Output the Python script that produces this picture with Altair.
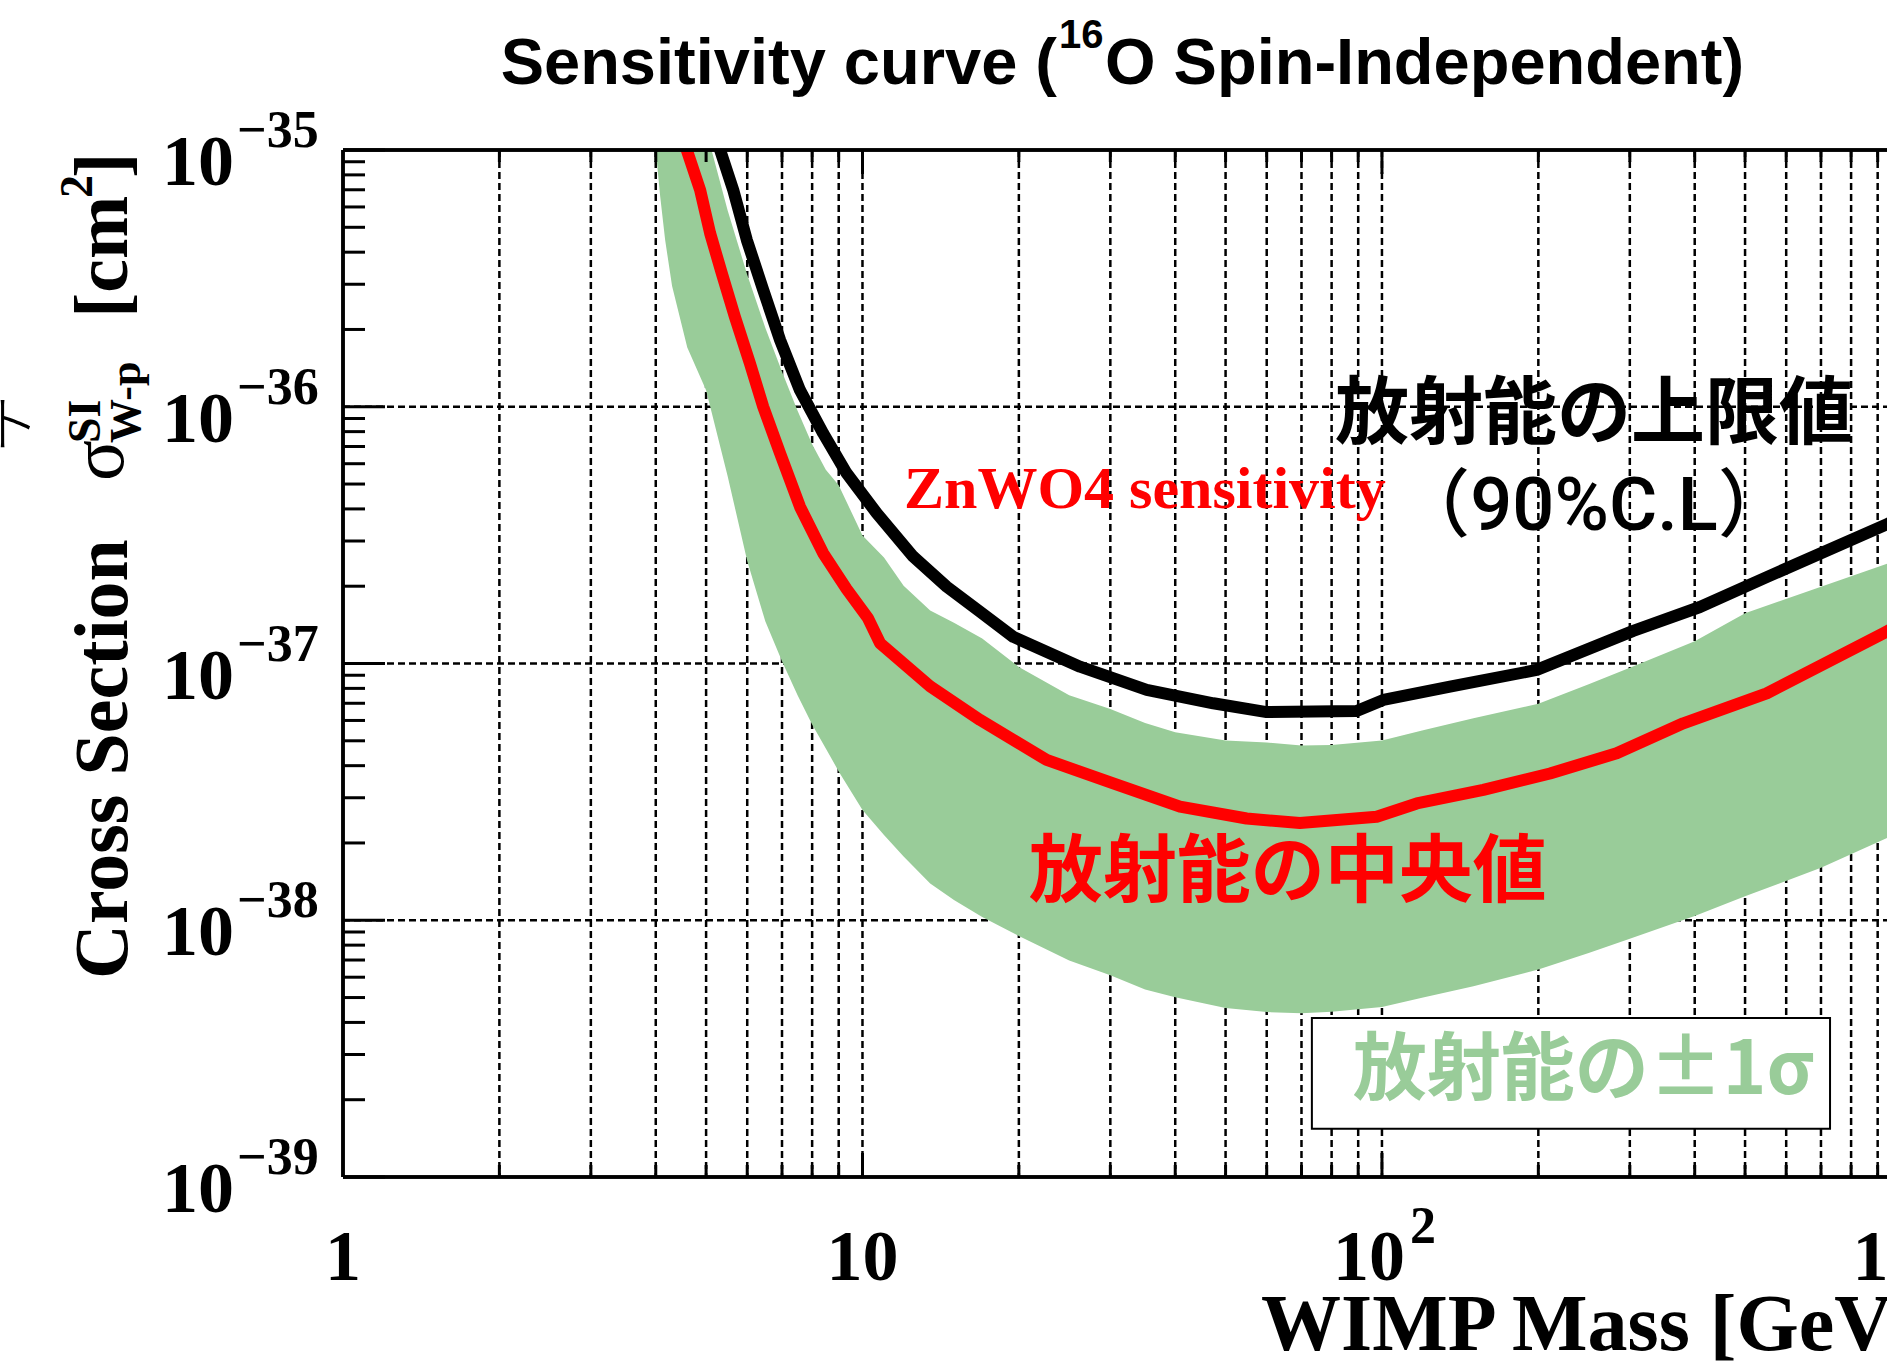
import altair as alt
import pandas as pd

# ---------------- data ----------------
# Upper limit (90% C.L.) - black
upper_mass = [5.01, 5.32, 5.64, 5.99, 6.44, 6.94, 7.58, 8.40, 9.32, 10.65, 12.52, 14.53, 16.84,
              19.51, 26.22, 35.25, 47.35, 60.0, 89.4, 100.6, 135.2, 198.6, 304.6, 409.4, 550.3,
              937.8, 1000]
upper_sigma = [1.45e-35, 1.0e-35, 6.98e-36, 4.46e-36, 2.85e-36, 1.82e-36, 1.16e-36, 7.88e-37,
               5.51e-37, 3.85e-37, 2.61e-37, 1.99e-37, 1.59e-37, 1.27e-37, 9.72e-38, 7.89e-38,
               7.00e-38, 6.47e-38, 6.53e-38, 7.21e-38, 8.13e-38, 9.44e-38, 1.34e-37, 1.66e-37,
               2.17e-37, 3.49e-37, 3.70e-37]

# Median sensitivity - red
median_mass = [4.27, 4.59, 4.87, 5.09, 5.36, 5.68, 6.07, 6.44, 6.94, 7.58, 8.40, 9.32, 10.25,
               10.81, 13.49, 16.84, 22.62, 30.39, 40.85, 54.9, 69.5, 97.7, 116.7, 156.7, 210.6,
               283.0, 380.2, 550.3, 922.6, 1000]
median_sigma = [1.55e-35, 1.0e-35, 6.98e-36, 4.74e-36, 3.31e-36, 2.24e-36, 1.48e-36, 1.0e-36,
                6.59e-37, 4.08e-37, 2.69e-37, 1.95e-37, 1.50e-37, 1.20e-37, 8.15e-38, 6.03e-38,
                4.21e-38, 3.41e-38, 2.77e-38, 2.49e-38, 2.39e-38, 2.53e-38, 2.85e-38, 3.22e-38,
                3.73e-38, 4.47e-38, 5.85e-38, 7.65e-38, 1.31e-37, 1.43e-37]

# +-1 sigma band - green
band_mass = [4.0, 4.08, 4.17, 4.3, 4.6, 5.0, 5.5, 6.0, 6.5, 7.0, 7.5, 8.0, 8.5, 9.0, 10, 11, 12,
             13.5, 15, 17, 20, 25, 30, 35, 40, 50, 60, 70, 80, 100, 120, 150, 200, 250, 300, 400,
             500, 700, 1000]
band_low = [1.0e-35, 6.58e-36, 4.46e-36, 2.95e-36, 1.70e-36, 1.16e-36, 5.37e-37, 2.51e-37,
            1.46e-37, 1.02e-37, 7.53e-38, 5.79e-38, 4.67e-38, 3.80e-38, 2.69e-38, 2.15e-38,
            1.77e-38, 1.39e-38, 1.20e-38, 1.03e-38, 8.69e-39, 6.97e-39, 6.10e-39, 5.37e-39,
            5.01e-39, 4.55e-39, 4.39e-39, 4.34e-39, 4.40e-39, 4.59e-39, 5.00e-39, 5.53e-39,
            6.43e-39, 7.45e-39, 8.47e-39, 1.04e-38, 1.24e-38, 1.60e-38, 2.22e-38]
band_high = [6.3e-35, 5.5e-35, 4.7e-35, 3.7e-35, 2.24e-35, 1.2e-35, 5.82e-36, 3.27e-36, 2.03e-36,
             1.37e-36, 9.64e-37, 7.14e-37, 5.68e-37, 4.95e-37, 3.15e-37, 2.59e-37, 2.01e-37,
             1.61e-37, 1.44e-37, 1.25e-37, 9.70e-38, 7.52e-38, 6.65e-38, 5.87e-38, 5.40e-38,
             5.01e-38, 4.92e-38, 4.79e-38, 4.81e-38, 5.01e-38, 5.50e-38, 6.12e-38, 6.97e-38,
             8.30e-38, 9.62e-38, 1.22e-37, 1.57e-37, 1.99e-37, 2.56e-37]

# Axis ticks / labels
x_major = [10, 100]
x_minor = [2, 3, 4, 5, 6, 7, 8, 9, 20, 30, 40, 50, 60, 70, 80, 90, 200, 300, 400, 500, 600, 700,
           800, 900]
x_centered_labels = [1, 10]
x_centered_text = ["1", "10"]
x_power_labels = [100, 1000]
x_power_sup = ["2", "3"]
y_major = [1e-35, 1e-36, 1e-37, 1e-38, 1e-39]
y_major_sup = ["\u221235", "\u221236", "\u221237", "\u221238", "\u221239"]
y_minor_mult = [2, 3, 4, 5, 6, 7, 8, 9]
y_decades = [1e-36, 1e-37, 1e-38, 1e-39]

# ---------------- layout ----------------
W, H = 1544, 1027
SERIF = "Liberation Serif"
SANS = "Liberation Sans"
CJK = "Noto Sans CJK JP"
GREEN = "#99cc99"
RED = "#ff0000"

xs = alt.Scale(type="log", domain=[1, 938], nice=False)
ys = alt.Scale(type="log", domain=[1e-39, 1e-35], nice=False)


def X(f):
    return alt.X(f, type="quantitative", scale=xs, axis=None)


def Y(f):
    return alt.Y(f, type="quantitative", scale=ys, axis=None)


upper_df = pd.DataFrame({"m": upper_mass, "s": upper_sigma})
median_df = pd.DataFrame({"m": median_mass, "s": median_sigma})
band_df = pd.DataFrame({"m": band_mass, "lo": band_low, "hi": band_high})

xmaj_df = pd.DataFrame({"v": x_major})
xmin_df = pd.DataFrame({"v": x_minor})
xgrid_df = pd.DataFrame({"v": x_major + x_minor})
ymaj_df = pd.DataFrame({"v": y_major, "sup": y_major_sup})
ygrid_df = pd.DataFrame({"v": y_major[1:-1]})
ymin_df = pd.DataFrame({"v": [k * d for d in y_decades for k in y_minor_mult]})
xlab_df = pd.DataFrame({"v": x_centered_labels, "t": x_centered_text})
xpow_df = pd.DataFrame({"v": x_power_labels, "sup": x_power_sup})

grid_style = dict(color="black", strokeWidth=2.5, strokeDash=[7, 4])

layers = []
# grid
layers.append(alt.Chart(xgrid_df).mark_rule(**grid_style).encode(
    x=X("v"), y=alt.value(0), y2=alt.value(H)))
layers.append(alt.Chart(ygrid_df).mark_rule(**grid_style).encode(
    y=Y("v"), x=alt.value(0), x2=alt.value(W)))

# band and curves
layers.append(alt.Chart(band_df).mark_area(color=GREEN, opacity=1, clip=True).encode(
    x=X("m"), y=Y("lo"), y2=alt.Y2("hi")))
layers.append(alt.Chart(upper_df).mark_line(color="black", strokeWidth=12, clip=True,
                                            strokeJoin="round").encode(x=X("m"), y=Y("s")))
layers.append(alt.Chart(median_df).mark_line(color=RED, strokeWidth=12, clip=True,
                                             strokeJoin="round").encode(x=X("m"), y=Y("s")))

# ticks
tick = dict(color="black", strokeWidth=3)
layers.append(alt.Chart(xmaj_df).mark_rule(**tick).encode(x=X("v"), y=alt.value(H), y2=alt.value(H - 24)))
layers.append(alt.Chart(xmin_df).mark_rule(**tick).encode(x=X("v"), y=alt.value(H), y2=alt.value(H - 12)))
layers.append(alt.Chart(xmaj_df).mark_rule(**tick).encode(x=X("v"), y=alt.value(0), y2=alt.value(24)))
layers.append(alt.Chart(xmin_df).mark_rule(**tick).encode(x=X("v"), y=alt.value(0), y2=alt.value(12)))
layers.append(alt.Chart(ymaj_df).mark_rule(**tick).encode(y=Y("v"), x=alt.value(0), x2=alt.value(42)))
layers.append(alt.Chart(ymin_df).mark_rule(**tick).encode(y=Y("v"), x=alt.value(0), x2=alt.value(22)))

# frame (left, top, bottom)
frame = dict(color="black", strokeWidth=3.5)
layers.append(alt.Chart(xlab_df).mark_rule(**frame).encode(x=alt.value(0), y=alt.value(0), y2=alt.value(H)))
layers.append(alt.Chart(xlab_df).mark_rule(**frame).encode(x=alt.value(0), x2=alt.value(W), y=alt.value(0)))
layers.append(alt.Chart(xlab_df).mark_rule(**frame).encode(x=alt.value(0), x2=alt.value(W), y=alt.value(H)))

# y tick labels 10^n
layers.append(alt.Chart(ymaj_df).mark_text(font=SERIF, fontSize=72, fontWeight="bold", align="right",
                                           baseline="alphabetic", dy=35, color="black").encode(
    y=Y("v"), x=alt.value(-109), text=alt.value("10")))
layers.append(alt.Chart(ymaj_df).mark_text(font=SERIF, fontSize=52, fontWeight="bold", align="left",
                                           baseline="alphabetic", dy=-3, color="black").encode(
    y=Y("v"), x=alt.value(-106), text="sup:N"))

# x tick labels
layers.append(alt.Chart(xlab_df).mark_text(font=SERIF, fontSize=72, fontWeight="bold", align="center",
                                           baseline="alphabetic", color="black").encode(
    x=X("v"), y=alt.value(1130), text="t:N"))
layers.append(alt.Chart(xpow_df).mark_text(font=SERIF, fontSize=72, fontWeight="bold", align="left",
                                           baseline="alphabetic", dx=-49, color="black").encode(
    x=X("v"), y=alt.value(1130), text=alt.value("10")))
layers.append(alt.Chart(xpow_df).mark_text(font=SERIF, fontSize=52, fontWeight="bold", align="left",
                                           baseline="alphabetic", dx=28, color="black").encode(
    x=X("v"), y=alt.value(1093), text="sup:N"))


def ptext(text, x, y, **kw):
    return alt.Chart(pd.DataFrame({"t": [text]})).mark_text(**kw).encode(
        x=alt.value(x), y=alt.value(y), text="t:N")


# x axis title
layers.append(ptext("WIMP Mass [GeV]", 918, 1200, font=SERIF, fontSize=80, fontWeight="bold",
                    align="left", baseline="alphabetic", color="black"))

# y axis title pieces (rotated)
rot = dict(angle=270, align="left", baseline="alphabetic", color="black", font=SERIF)
layers.append(ptext("Cross Section", -216, 829, fontSize=76, fontWeight="bold", **rot))
layers.append(ptext("\u03c3", -220, 331, fontSize=76, **rot))
layers.append(ptext("SI", -243, 293, fontSize=46, fontWeight="bold", **rot))
layers.append(ptext("W-p", -203, 293, fontSize=44, fontWeight="bold", **rot))
layers.append(ptext("[cm", -216, 168, fontSize=76, fontWeight="bold", **rot))
layers.append(ptext("2", -251, 48, fontSize=46, fontWeight="bold", **rot))
layers.append(ptext("]", -216, 28, fontSize=76, fontWeight="bold", **rot))
layers.append(ptext("\u30c8", -333, 278, fontSize=60, font=CJK, fontWeight=300, align="center",
                    baseline="middle", color="black"))

# chart title
layers.append(ptext("Sensitivity curve (", 714, -66, font=SANS, fontSize=65, fontWeight="bold",
                    align="right", baseline="alphabetic", color="black"))
layers.append(ptext("16", 716, -102, font=SANS, fontSize=40, fontWeight="bold",
                    align="left", baseline="alphabetic", color="black"))
layers.append(ptext("O Spin-Independent)", 762, -66, font=SANS, fontSize=65, fontWeight="bold",
                    align="left", baseline="alphabetic", color="black"))

# annotations (placed in data coordinates)
ann_mass = [256, 256, 12.02, 65.9]
ann_sigma = [9.2e-37, 4.04e-37, 4.04e-37, 1.51e-38]
layers.append(alt.Chart(pd.DataFrame({"m": [ann_mass[0]], "s": [ann_sigma[0]], "t": ["放射能の上限値"]}))
              .mark_text(font=CJK, fontSize=74, fontWeight="bold", align="center", baseline="middle",
                         color="black").encode(x=X("m"), y=Y("s"), text="t:N"))
layers.append(alt.Chart(pd.DataFrame({"m": [ann_mass[1]], "s": [ann_sigma[1]], "t": ["（90%C.L）"]}))
              .mark_text(font="Roboto, Noto Sans CJK JP", fontSize=74, fontWeight=500, align="center",
                         baseline="middle", color="black").encode(x=X("m"), y=Y("s"), text="t:N"))
layers.append(alt.Chart(pd.DataFrame({"m": [ann_mass[2]], "s": [ann_sigma[2]], "t": ["ZnWO4 sensitivity"]}))
              .mark_text(font=SERIF, fontSize=60, fontWeight="bold", align="left", baseline="alphabetic",
                         color=RED).encode(x=X("m"), y=Y("s"), text="t:N"))
layers.append(alt.Chart(pd.DataFrame({"m": [ann_mass[3]], "s": [ann_sigma[3]], "t": ["放射能の中央値"]}))
              .mark_text(font=CJK, fontSize=74, fontWeight="bold", align="center", baseline="middle",
                         color=RED).encode(x=X("m"), y=Y("s"), text="t:N"))

# legend box for the band
box_df = pd.DataFrame({"m1": [73.3], "m2": [728.7], "s1": [1.54e-39], "s2": [4.16e-39]})
layers.append(alt.Chart(box_df).mark_rect(fill="white", stroke="black", strokeWidth=2).encode(
    x=X("m1"), x2="m2", y=Y("s1"), y2="s2"))
layers.append(alt.Chart(pd.DataFrame({"m": [87.9], "s": [2.56e-39], "t": ["放射能の±1σ"]}))
              .mark_text(font=CJK, fontSize=74, fontWeight="bold", align="left", baseline="middle",
                         color=GREEN).encode(x=X("m"), y=Y("s"), text="t:N"))

chart = alt.layer(*layers).properties(
    width=W, height=H,
    autosize=alt.AutoSizeParams(type="none"),
    padding={"left": 343, "top": 150, "right": 0, "bottom": 189},
).configure_view(strokeWidth=0).configure(background="white")

chart.save("out.html", embed_options={"renderer": "svg", "actions": False})
